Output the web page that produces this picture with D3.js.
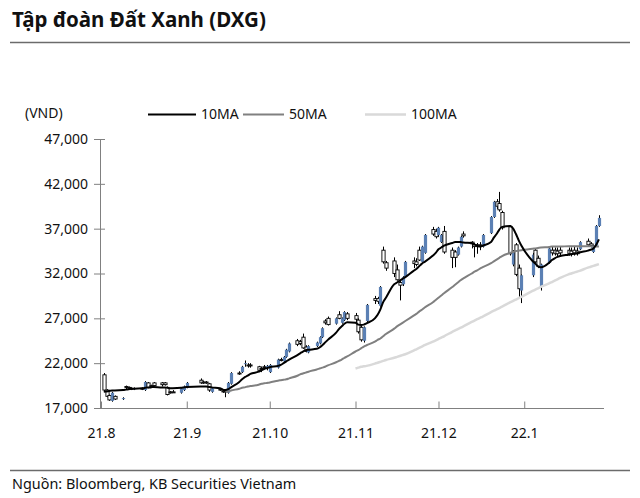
<!DOCTYPE html>
<html>
<head>
<meta charset="utf-8">
<script src="https://cdn.jsdelivr.net/npm/d3@7"></script>
<style>
  html, body { margin: 0; padding: 0; background: #fff; }
  svg { display: block; font-family: "Noto Sans", "DejaVu Sans", sans-serif; }
</style>
</head>
<body>
<svg id="chart" width="640" height="498"></svg>
<script>
// ---------------- DATA ----------------
const dates = [
  "21-08-02","21-08-03","21-08-04","21-08-05","21-08-06","21-08-09","21-08-10","21-08-11","21-08-12","21-08-13",
  "21-08-16","21-08-17","21-08-18","21-08-19","21-08-20","21-08-23","21-08-24","21-08-25","21-08-26","21-08-27",
  "21-08-30","21-08-31","21-09-01","21-09-06","21-09-07","21-09-08","21-09-09","21-09-10","21-09-13","21-09-14",
  "21-09-15","21-09-16","21-09-17","21-09-20","21-09-21","21-09-22","21-09-23","21-09-24","21-09-27","21-09-28",
  "21-09-29","21-09-30","21-10-01","21-10-04","21-10-05","21-10-06","21-10-07","21-10-08","21-10-11","21-10-12",
  "21-10-13","21-10-14","21-10-15","21-10-18","21-10-19","21-10-20","21-10-21","21-10-22","21-10-25","21-10-26",
  "21-10-27","21-10-28","21-10-29","21-11-01","21-11-02","21-11-03","21-11-04","21-11-05","21-11-08","21-11-09",
  "21-11-10","21-11-11","21-11-12","21-11-15","21-11-16","21-11-17","21-11-18","21-11-19","21-11-22","21-11-23",
  "21-11-24","21-11-25","21-11-26","21-11-29","21-11-30","21-12-01","21-12-02","21-12-03","21-12-06","21-12-07",
  "21-12-08","21-12-09","21-12-10","21-12-13","21-12-14","21-12-15","21-12-16","21-12-17","21-12-20","21-12-21",
  "21-12-22","21-12-23","21-12-24","21-12-27","21-12-28","21-12-29","21-12-30","21-12-31","22-01-04","22-01-05",
  "22-01-06","22-01-07","22-01-10","22-01-11","22-01-12","22-01-13","22-01-14","22-01-17","22-01-18","22-01-19",
  "22-01-20","22-01-21","22-01-24","22-01-25","22-01-26","22-01-27","22-01-28"
];
const open = [
  20700,19000,18400,17800,18300,18000,19400,19300,19200,19100,
  19200,19000,19800,19500,19800,19800,19800,19300,18800,18800,
  18700,19000,19300,20100,19900,19900,19700,18800,19100,18900,
  18900,18700,19700,20900,21000,21900,21800,21800,21600,21400,
  21600,21500,21000,21500,22400,22200,22700,23300,24500,24400,
  24900,23800,23200,23900,24200,24900,26700,27000,26400,27400,
  26500,26800,27500,27300,26800,26000,24500,26700,29200,29200,
  28400,34600,33200,33400,32400,31000,30800,31600,33400,33300,
  34600,33300,34300,36900,36700,36300,35500,36700,34600,34400,
  34100,35000,36400,35500,35200,35200,35200,35000,36500,38300,
  40000,39800,38800,37200,33000,35200,32600,30100,31800,34600,
  33700,30500,33200,34600,34600,34500,34600,34600,34500,34600,
  34500,34700,35600,35300,34400,35100,37300
];
const high = [
  20900,19100,18500,18800,18400,18200,19500,19400,19300,19300,
  19300,20000,19900,19600,19900,19900,19900,19400,18900,19000,
  19300,19500,19900,20300,20000,20000,19800,19300,19200,19000,
  19000,19900,21000,21100,21700,22300,22000,22000,21700,21600,
  21800,21800,21900,22500,22600,22800,23600,24300,24700,24600,
  25300,24000,24000,24400,25000,26000,26900,27200,27100,27800,
  27100,27800,27700,27600,27000,26200,26100,28600,29500,29400,
  30600,35000,33400,33800,33000,31200,31700,33400,33800,33700,
  35000,35100,36400,37200,37000,37200,36400,37300,34900,34600,
  35000,36200,36700,35600,35400,35400,35500,36400,38400,40100,
  40300,41100,39000,37400,34600,35400,33000,31900,34300,34800,
  34000,33100,35000,35000,34900,34900,35000,34900,34900,35000,
  34900,35600,35900,35500,35200,37400,38500
];
const low = [
  18900,18200,17800,17700,17900,17900,19100,19100,19000,19000,
  19000,18900,19200,19300,19400,19400,19500,18400,18600,18700,
  18600,18900,19200,19700,19700,19700,18800,18700,18900,18700,
  18200,18600,19600,20700,20900,21600,21500,21500,21000,21000,
  21400,21200,20900,21400,22200,22100,22600,23200,23900,24000,
  23600,23200,23100,23800,24100,24800,26300,26200,26300,26900,
  26400,26700,26800,26500,25300,24400,24300,26600,28600,28600,
  28300,33100,32300,31600,31200,29000,30600,31500,32600,32800,
  33400,33200,34200,36200,35900,36100,35400,34200,32600,32700,
  34000,34900,36000,34800,33800,34200,34600,34900,36400,38200,
  39200,38900,36900,34000,32800,31700,29300,28700,31600,33000,
  32600,30100,33100,34000,34000,33900,34000,34000,33900,34000,
  34000,34600,35100,34900,34300,35000,37200
];
const close = [
  19000,18300,17900,18700,18000,18100,19300,19200,19100,19200,
  19100,19900,19300,19400,19500,19600,19600,18500,18800,18800,
  19200,19400,19800,19800,19800,19800,19000,19200,19000,18800,
  18800,19800,20900,20900,21600,22000,21700,21700,21200,21300,
  21600,21700,21800,22400,22300,22700,23500,24200,24100,24200,
  23700,23300,23900,24300,24900,25900,26500,26300,27000,27000,
  27000,27700,27000,26900,25500,24600,26000,28500,29000,28900,
  30500,33300,32600,32000,31300,30700,31600,33300,33100,33000,
  33500,35000,36300,36400,36100,37100,36300,34400,33800,33800,
  34900,36100,36200,35300,35000,35000,35100,36300,38300,40000,
  39500,39100,37100,34200,34400,31900,30300,31800,34100,33300,
  32800,33000,34800,34300,34200,34200,34300,34200,34200,34300,
  34200,35500,35200,35100,35100,37300,38200
];
const ma10 = [
  18800,18850,18900,18950,18950,19000,19050,19100,19150,19150,
  19200,19250,19300,19300,19350,19300,19300,19250,19200,19200,
  19250,19300,19350,19400,19400,19400,19350,19300,19200,19050,
  19000,19100,19300,19900,20200,20450,20600,20800,21050,21200,
  21350,21450,21550,21700,21800,22000,22200,22400,22900,23100,
  23300,23450,23500,23600,23750,24000,24300,24600,25400,25800,
  26100,26400,26550,26500,26300,26250,26300,26450,27000,27400,
  28000,28800,29300,30800,31000,31200,31400,31600,32300,32500,
  32800,33100,33300,34000,34300,34700,34900,35100,35400,35500,
  35500,35500,35450,35400,35250,35100,35000,35100,35500,36000,
  36400,36900,37200,37300,37000,36400,35700,35100,33400,33100,
  32800,32700,33200,33500,33700,33850,33950,34100,34150,34200,
  34250,34350,34550,34650,34800,35200,35800
];
const ma50 = [
  null,null,null,null,null,null,null,null,null,null,
  null,null,null,null,null,null,null,null,null,null,
  null,null,null,null,null,null,null,null,null,null,
  18800,18850,18950,19150,19250,19300,19400,19450,19600,19700,
  19750,19800,19850,20050,20100,20150,20200,20300,20600,20750,
  20850,20950,21050,21300,21400,21500,21600,21750,22100,22250,
  22400,22600,22750,23300,23450,23650,23850,24000,24400,24600,
  24750,25000,25250,25850,26100,26300,26500,26700,27300,27500,
  27750,27950,28200,28800,29050,29300,29550,29800,30500,30750,
  31000,31250,31450,32000,32200,32350,32550,32700,33150,33350,
  33550,33750,33950,34300,34400,34500,34550,34600,34750,34800,
  34850,34900,34950,35000,35000,35000,35000,35050,35050,35050,
  35050,35050,35050,35050,35000,35000,35000
];
const ma100 = [
  null,null,null,null,null,null,null,null,null,null,
  null,null,null,null,null,null,null,null,null,null,
  null,null,null,null,null,null,null,null,null,null,
  null,null,null,null,null,null,null,null,null,null,
  null,null,null,null,null,null,null,null,null,null,
  null,null,null,null,null,null,null,null,null,null,
  null,null,null,21400,21500,21600,21650,21700,21950,22050,
  22150,22250,22350,22600,22700,22800,22900,23000,23400,23550,
  23700,23850,24000,24400,24550,24700,24850,25000,25500,25650,
  25800,25950,26100,26600,26750,26900,27050,27200,27700,27850,
  28000,28150,28300,28800,28950,29100,29250,29400,30050,30200,
  30350,30500,30900,31050,31200,31350,31500,31900,32000,32100,
  32200,32300,32650,32750,32850,32950,33050
];
const yTicks = [17000, 22000, 27000, 32000, 37000, 42000, 47000];
const monthTicks = ["21-08-01","21-09-01","21-10-01","21-11-01","21-12-01","22-01-01"];
const monthLabels = ["21.8","21.9","21.10","21.11","21.12","22.1"];
const seriesNames = ["10MA","50MA","100MA"];
const seriesColors = ["#000000","#808080","#d9d9d9"];

// ---------------- CHART ----------------
const parse = d3.timeParse("%y-%m-%d");
const svg = d3.select("#chart");
const rows = dates.map((d, i) => ({
  date: parse(d), o: open[i], h: high[i], l: low[i], c: close[i],
  m10: ma10[i], m50: ma50[i], m100: ma100[i]
}));

const x = d3.scaleTime().domain([parse("21-08-01"), parse("22-02-01")]).range([101, 610]);
const y = d3.scaleLinear().domain([17000, 47000]).range([408, 139]);

// title
svg.append("text").attr("x", 12).attr("y", 27)
  .attr("font-size", 20.5).attr("font-weight", "bold").attr("fill", "#111")
  .text("Tập đoàn Đất Xanh (DXG)");
svg.append("line").attr("x1", 10).attr("x2", 630).attr("y1", 42.5).attr("y2", 42.5)
  .attr("stroke", "#6b6b6b").attr("stroke-width", 1.3);
// footer
svg.append("line").attr("x1", 10).attr("x2", 630).attr("y1", 470.5).attr("y2", 470.5)
  .attr("stroke", "#6b6b6b").attr("stroke-width", 1.3);
svg.append("text").attr("x", 12).attr("y", 489)
  .attr("font-size", 14.4).attr("fill", "#111")
  .text("Nguồn: Bloomberg, KB Securities Vietnam");

// unit label
svg.append("text").attr("x", 25).attr("y", 118).attr("font-size", 14).attr("fill", "#111").text("(VND)");

// legend
const legX = [148, 243, 365];
const legLen = [48, 41, 41];
seriesNames.forEach((n, i) => {
  svg.append("line").attr("x1", legX[i]).attr("x2", legX[i] + legLen[i]).attr("y1", 114.5).attr("y2", 114.5)
    .attr("stroke", seriesColors[i]).attr("stroke-width", i === 2 ? 2.5 : 2);
  svg.append("text").attr("x", legX[i] + legLen[i] + 5).attr("y", 119).attr("font-size", 14).attr("fill", "#111").text(n);
});

// axes
const yAxis = svg.append("g").attr("transform", "translate(100,0)")
  .call(d3.axisLeft(y).tickValues(yTicks).tickFormat(d3.format(",")).tickSize(6).tickSizeOuter(0).tickPadding(6));
yAxis.selectAll(".tick line").attr("x1", 5).attr("x2", -6);
yAxis.select(".domain").remove();
yAxis.selectAll("text").attr("font-size", 14).attr("fill", "#111").attr("font-family", "Noto Sans");
yAxis.selectAll("line").attr("stroke", "#808080");
svg.append("line").attr("x1", 100.5).attr("x2", 100.5).attr("y1", 139).attr("y2", 408.5).attr("stroke", "#808080");

const xAxis = svg.append("g").attr("transform", "translate(0,408.5)")
  .call(d3.axisBottom(x).tickValues(monthTicks.map(parse))
    .tickFormat((d, i) => monthLabels[i]).tickSize(-7).tickSizeOuter(0).tickPadding(20));
xAxis.select(".domain").remove();
xAxis.selectAll("line").attr("stroke", "#808080");
xAxis.selectAll("text").attr("font-size", 14).attr("fill", "#111").attr("font-family", "Noto Sans");
svg.append("line").attr("x1", 100).attr("x2", 604).attr("y1", 408.5).attr("y2", 408.5).attr("stroke", "#808080");

// candles
const cw = 3.2;
const cg = svg.append("g");
cg.selectAll("line.wick").data(rows).join("line")
  .attr("x1", d => Math.round(x(d.date)) + 0.5).attr("x2", d => Math.round(x(d.date)) + 0.5)
  .attr("y1", d => y(d.h)).attr("y2", d => y(d.l))
  .attr("stroke", "#000").attr("stroke-width", 1);
cg.selectAll("rect.body").data(rows).join("rect")
  .attr("x", d => Math.round(x(d.date)) + 0.5 - cw / 2)
  .attr("y", d => y(Math.max(d.o, d.c)))
  .attr("width", cw)
  .attr("height", d => Math.max(1, Math.abs(y(d.o) - y(d.c))))
  .attr("fill", d => d.c > d.o ? "#5b80b4" : "#ffffff")
  .attr("stroke", d => d.c > d.o ? "none" : "#000")
  .attr("stroke-width", 0.9);

// MA lines
const mkLine = key => d3.line().defined(d => d[key] != null)
  .x(d => x(d.date)).y(d => y(d[key])).curve(d3.curveMonotoneX);
svg.append("path").datum(rows).attr("d", mkLine("m100")).attr("fill", "none")
  .attr("stroke", seriesColors[2]).attr("stroke-width", 2.5);
svg.append("path").datum(rows).attr("d", mkLine("m50")).attr("fill", "none")
  .attr("stroke", seriesColors[1]).attr("stroke-width", 2);
svg.append("path").datum(rows).attr("d", mkLine("m10")).attr("fill", "none")
  .attr("stroke", seriesColors[0]).attr("stroke-width", 2);
</script>
</body>
</html>
